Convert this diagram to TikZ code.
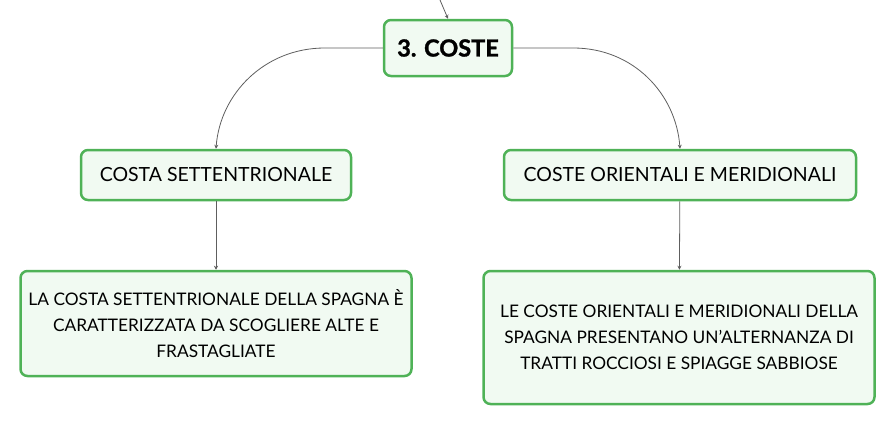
\documentclass[tikz,border=0pt]{standalone}
\usepackage{fontspec}
\setmainfont{Lato}
\newfontfamily\headfont{Lato}[BoldFeatures={FakeBold=1.3}]
\usetikzlibrary{arrows.meta}
\definecolor{boxgreen}{HTML}{4FB257}
\definecolor{boxfill}{HTML}{F1FAF2}
\definecolor{linkgray}{HTML}{5E5E5E}

\begin{document}
\begin{tikzpicture}[x=1pt,y=-1pt,
	topic/.style={draw=boxgreen,fill=boxfill,line width=2.5pt,rounded corners=7pt,align=center,inner sep=0pt},
	link/.style={draw=linkgray,line width=0.8pt,-{Stealth[length=4pt,width=4pt]}}]
	\useasboundingbox (0,0) rectangle (896,426);
	\node[topic,minimum width=128pt,minimum height=56pt,font=\fontsize{23.5}{28}\headfont\bfseries] (coste) at (448,48) {3. COSTE};
	\node[topic,minimum width=270pt,minimum height=50pt,font=\fontsize{19.5}{24}\selectfont] (nord) at (216,175) {COSTA SETTENTRIONALE};
	\node[topic,minimum width=352pt,minimum height=50pt,font=\fontsize{19.5}{24}\selectfont] (sud) at (680,175) {COSTE ORIENTALI E MERIDIONALI};
	\node[topic,minimum width=391pt,minimum height=105pt,font=\fontsize{17.3}{26}\selectfont] (nordtext) at (216,323.5)
		{LA COSTA SETTENTRIONALE DELLA SPAGNA È\\CARATTERIZZATA DA SCOGLIERE ALTE E\\FRASTAGLIATE};
	\node[topic,minimum width=391pt,minimum height=133pt,font=\fontsize{17.3}{26}\selectfont] (sudtext) at (679,337.5)
		{LE COSTE ORIENTALI E MERIDIONALI DELLA\\SPAGNA PRESENTANO UN'ALTERNANZA DI\\TRATTI ROCCIOSI E SPIAGGE SABBIOSE};
	\coordinate (root) at (440,0);
	\draw[link] (root) -- (coste.north);
	\draw[link] (coste.west) -- ++(-58,0) .. controls +(-60,0) and +(4,-55) .. (nord.north);
	\draw[link] (coste.east) -- ++(60,0) .. controls +(60,0) and +(-4,-55) .. (sud.north);
	\draw[link] (nord) -- (nordtext);
	\draw[link] (sud) -- (sudtext);
\end{tikzpicture}
\end{document}
